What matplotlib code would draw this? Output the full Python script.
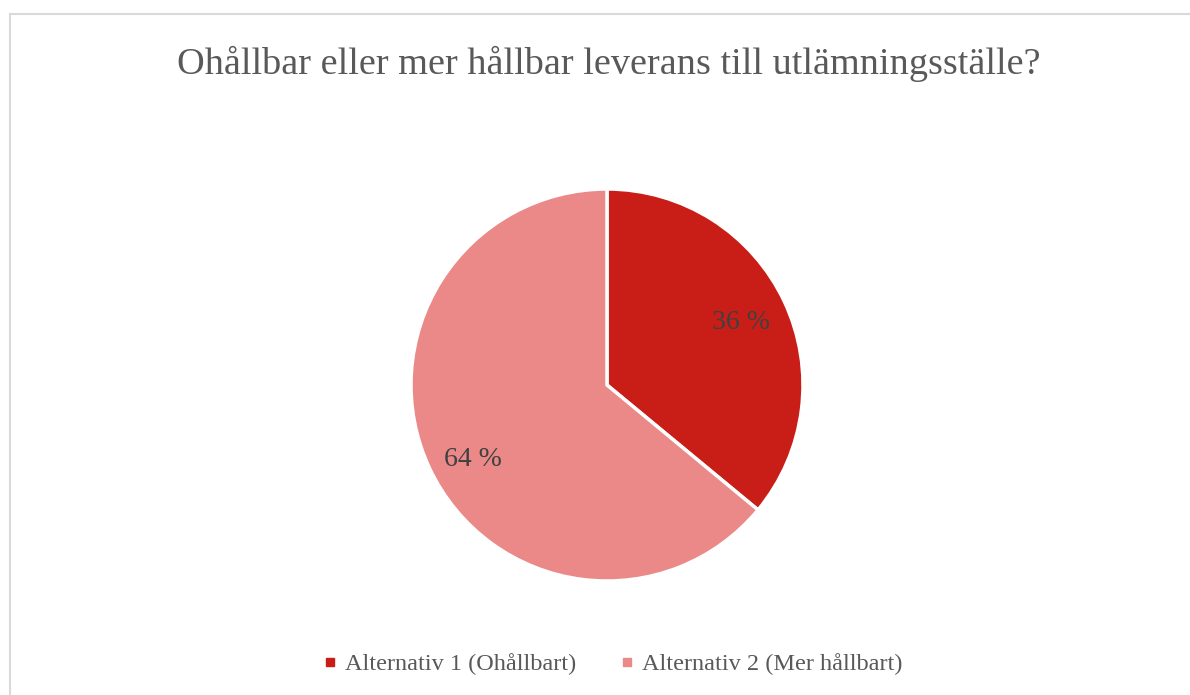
import matplotlib
matplotlib.use("Agg")
import matplotlib.pyplot as plt
from matplotlib.lines import Line2D

title = "Ohållbar eller mer hållbar leverans till utlämningsställe?"
categories = ["Alternativ 1 (Ohållbart)", "Alternativ 2 (Mer hållbart)"]
values = [36, 64]
labels = ["36 %", "64 %"]
colors = ["#C81E17", "#EA8987"]

plt.rcParams['font.family'] = ['Liberation Serif', 'DejaVu Serif']

W, H = 1190, 695
fig = plt.figure(figsize=(W/100, H/100), dpi=100)
fig.patch.set_facecolor("white")

# frame (top and left edges visible only)
fig.add_artist(Line2D([10/W, 1.0], [1 - 13.5/H, 1 - 13.5/H], transform=fig.transFigure,
                      color="#D9D9D9", linewidth=1.5))
fig.add_artist(Line2D([10/W, 10/W], [0, 1 - 13.5/H], transform=fig.transFigure,
                      color="#D9D9D9", linewidth=1.5))

cx, cy, r = 607, 385, 196
ax = fig.add_axes([(cx - r)/W, (H - cy - r)/H, 2*r/W, 2*r/H])
wedges, _ = ax.pie(values, colors=colors, startangle=90, counterclock=False,
                   wedgeprops=dict(edgecolor="white", linewidth=2.5), radius=1.0)
ax.set_xlim(-1, 1)
ax.set_ylim(-1, 1)
ax.set_aspect("equal")
ax.axis("off")

label_pos = [(741, 322), (473, 459)]
for (x, y), t in zip(label_pos, labels):
    fig.text(x/W, 1 - y/H, t, ha="center", va="center", fontsize=20, color="#404040")

fig.text(609/W, 1 - 64/H, title, ha="center", va="center", fontsize=27.5, color="#595959")

handles = [Line2D([0], [0], marker="s", linestyle="none", markersize=6,
                  markerfacecolor=c, markeredgecolor=c) for c in colors]
fig.legend(handles, categories, loc="center", bbox_to_anchor=(610/W, 1 - 664/H),
           ncol=2, frameon=False, fontsize=17.5, handletextpad=0.1, columnspacing=1.6,
           handlelength=1.0, labelcolor="#595959")

fig.savefig("out.png", dpi=100)
